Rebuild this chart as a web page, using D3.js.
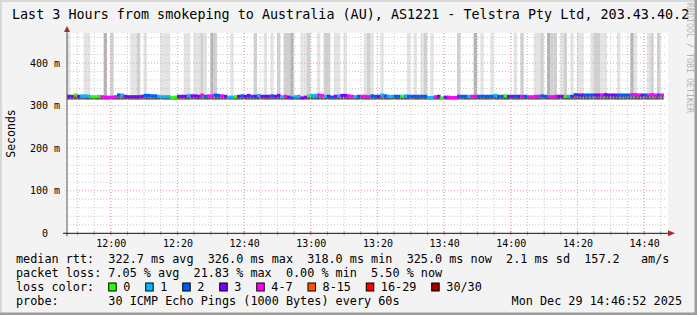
<!DOCTYPE html>
<html>
<head>
<meta charset="utf-8">
<script src="https://cdn.jsdelivr.net/npm/d3@7"></script>
<style>
body { margin: 0; background: #fff; }
text { font-family: "DejaVu Sans Mono", monospace; white-space: pre; }
</style>
</head>
<body>
<div id="chart"></div>
<script>
const W = 697, H = 315;

const title = "Last 3 Hours from smokeping to Australia (AU), AS1221 - Telstra Pty Ltd, 203.43.40.2";
const startTime = new Date(2025, 11, 29, 11, 46, 52);
const endTime = new Date(2025, 11, 29, 14, 46, 52);

// one sample per minute, median rtt in ms
const median = [
  322, 322, 325, 322, 323, 323, 322, 321, 321, 322,
  321, 320, 320, 320, 321, 325, 325, 322, 321, 321,
  321, 321, 322, 324, 324, 323, 323, 322, 321, 321,
  321, 319, 320, 322, 322, 322, 324, 323, 323, 322,
  325, 322, 323, 323, 325, 324, 323, 322, 320, 320,
  321, 322, 323, 322, 324, 322, 322, 324, 322, 322,
  322, 323, 322, 324, 321, 322, 320, 318, 321, 322,
  318, 320, 323, 324, 324, 325, 324, 322, 322, 320,
  322, 323, 324, 324, 323, 322, 321, 322, 322, 322,
  321, 323, 322, 322, 325, 323, 322, 322, 322, 322,
  322, 323, 322, 322, 322, 322, 322, 322, 319, 319,
  321, 322, 318, 320, 320, 319, 319, 322, 322, 322,
  322, 322, 322, 322, 322, 322, 322, 322, 324, 322,
  322, 323, 322, 322, 322, 322, 322, 322, 321, 321,
  322, 322, 323, 322, 321, 321, 322, 322, 322, 322,
  322, 322, 326, 325, 325, 325, 325, 325, 325, 325,
  325, 326, 325, 325, 325, 325, 325, 325, 325, 326,
  326, 325, 325, 325, 325, 326, 325, 325, 325
];

// lost pings (of 30) per minute
const loss = [
  3, 3, 0, 3, 1, 1, 1, 0, 0, 0,
  5, 5, 5, 5, 5, 2, 1, 3, 3, 3,
  3, 3, 3, 2, 2, 2, 2, 1, 1, 1,
  1, 0, 0, 3, 3, 3, 1, 3, 3, 3,
  5, 2, 5, 5, 2, 2, 5, 3, 1, 1,
  0, 3, 2, 3, 3, 2, 3, 1, 3, 3,
  3, 2, 3, 3, 1, 5, 3, 2, 1, 1,
  3, 3, 0, 1, 1, 5, 5, 1, 3, 2,
  3, 1, 3, 3, 5, 5, 1, 2, 5, 5,
  5, 2, 2, 3, 1, 2, 1, 1, 2, 2,
  0, 1, 2, 2, 2, 2, 2, 2, 1, 1,
  5, 3, 0, 3, 5, 5, 5, 2, 2, 2,
  1, 5, 5, 2, 2, 2, 2, 2, 1, 2,
  2, 0, 3, 3, 2, 3, 5, 2, 5, 5,
  5, 5, 2, 2, 5, 5, 5, 3, 3, 0,
  1, 3, 2, 3, 3, 2, 2, 2, 3, 3,
  5, 3, 3, 3, 3, 2, 2, 2, 2, 5,
  5, 5, 3, 2, 5, 5, 5, 2, 5
];

// minutes with pings above the top of the graph, and how dense that smoke is (1 light .. 3 dark)
const smokeMinute = [0, 5, 6, 11, 13, 19, 20, 21, 23, 28, 29, 30, 35, 36, 38, 39, 40, 41, 43, 44,
  49, 56, 59, 61, 63, 65, 66, 67, 70, 71, 72, 75, 77, 78, 80, 81, 83, 89, 90, 91,
  94, 102, 104, 106, 107, 109, 117, 122, 124, 127, 134, 136, 140, 141, 142, 144, 145, 146, 148, 149,
  151, 153, 154, 157, 158, 159, 160, 161, 165, 169, 170, 174, 175, 177];
const smokeShade = [1, 1, 1, 3, 2, 1, 1, 2, 1, 1, 1, 1, 1, 1, 1, 1, 2, 1, 3, 2,
  1, 2, 1, 1, 2, 2, 2, 3, 1, 1, 2, 1, 2, 2, 1, 1, 1, 1, 2, 1,
  1, 1, 1, 1, 2, 1, 2, 3, 1, 1, 1, 2, 1, 1, 2, 3, 2, 2, 1, 2,
  1, 1, 1, 1, 2, 2, 1, 1, 1, 3, 1, 1, 2, 2];
const smokeLow = 314;

const lossLabels = ["0", "1", "2", "3", "4-7", "8-15", "16-29", "30/30"];
const lossLimits = [0, 1, 2, 3, 7, 15, 29, 30];
const lossColors = ["#26ff00", "#00b8ff", "#0059ff", "#7e00ff", "#ff00ff", "#ff5500", "#ff0000", "#a10000"];
const shadeColors = ["", "#e3e3e3", "#d0d0d0", "#b4b4b4"];

const yTicks = [0, 100, 200, 300, 400];
const yTickLabels = ["0  ", "100 m", "200 m", "300 m", "400 m"];

const legendRtt = "median rtt:  322.7 ms avg  326.0 ms max  318.0 ms min  325.0 ms now  2.1 ms sd  157.2   am/s";
const legendLoss = "packet loss: 7.05 % avg  21.83 % max  0.00 % min  5.50 % now";
const legendProbe = "probe:       30 ICMP Echo Pings (1000 Bytes) every 60s";
const stamp = "Mon Dec 29 14:46:52 2025";

const plot = { left: 67, right: 667, top: 33, bottom: 233.3 };

const x = d3.scaleTime().domain([startTime, endTime]).range([plot.left, plot.right]);
const y = d3.scaleLinear().domain([0, 470.6]).range([plot.bottom, plot.top]);
const minute = i => new Date(startTime.getTime() + i * 60000);

const svg = d3.select("#chart").append("svg")
  .attr("width", W).attr("height", H);

// canvas with rrdtool style bevel
svg.append("rect").attr("width", W).attr("height", H).attr("fill", "#f3f3f3");
svg.append("path").attr("d", `M0,${H} V0 H${W}`).attr("fill", "none")
  .attr("stroke", "#d8d8d8").attr("stroke-width", 4);
svg.append("path").attr("d", `M0,${H} H${W} V0`).attr("fill", "none")
  .attr("stroke", "#9c9c9c").attr("stroke-width", 5);

svg.append("text").attr("x", 12).attr("y", 18.5)
  .attr("font-size", 13.4).attr("fill", "#000").text(title);

svg.append("text").attr("transform", "translate(690,3) rotate(90)")
  .attr("font-size", 8.3).attr("fill", "#b4b4b4").attr("dominant-baseline", "central")
  .text("RRDTOOL / TOBI OETIKER");

svg.append("rect")
  .attr("x", plot.left).attr("y", plot.top)
  .attr("width", plot.right - plot.left + 1).attr("height", plot.bottom - plot.top)
  .attr("fill", "#fff");

// tall smoke
svg.append("g").selectAll("rect").data(smokeMinute).join("rect")
  .attr("x", m => x(minute(m)))
  .attr("width", m => x(minute(m + 1)) - x(minute(m)))
  .attr("y", plot.top)
  .attr("height", m => y(median[m]) - plot.top)
  .attr("fill", (m, i) => shadeColors[smokeShade[i]]);

// smoke just below median
svg.append("g").selectAll("rect").data(median).join("rect")
  .attr("x", (d, i) => x(minute(i)))
  .attr("width", (d, i) => x(minute(i + 1)) - x(minute(i)))
  .attr("y", d => y(d))
  .attr("height", d => y(smokeLow) - y(d))
  .attr("fill", "#5a5a5a");

// grid
const grid = svg.append("g");
const minorX = d3.timeMinute.every(5).range(startTime, endTime);
const majorX = d3.timeMinute.every(20).range(startTime, endTime);
grid.selectAll(".vmin").data(minorX).join("line")
  .attr("x1", d => x(d)).attr("x2", d => x(d))
  .attr("y1", plot.top).attr("y2", plot.bottom)
  .attr("stroke", "#c8c8c8").attr("stroke-dasharray", "1,2");
grid.selectAll(".vmaj").data(majorX).join("line")
  .attr("x1", d => x(d)).attr("x2", d => x(d))
  .attr("y1", plot.top).attr("y2", plot.bottom)
  .attr("stroke", "#e2a3a3").attr("stroke-dasharray", "1,2");
const minorY = d3.range(20, 470, 20);
grid.selectAll(".hmin").data(minorY).join("line")
  .attr("x1", plot.left).attr("x2", plot.right)
  .attr("y1", d => y(d)).attr("y2", d => y(d))
  .attr("stroke", d => d % 100 === 0 ? "#e2a3a3" : "#c8c8c8")
  .attr("stroke-dasharray", "1,2");

// median line coloured by loss
const lossColor = n => lossColors[lossLimits.findIndex(l => n <= l)];
svg.append("g").selectAll("rect").data(median).join("rect")
  .attr("x", (d, i) => x(minute(i)))
  .attr("width", (d, i) => x(minute(i + 1)) - x(minute(i)) + 0.3)
  .attr("y", d => y(d) - 1.5)
  .attr("height", 3)
  .attr("fill", (d, i) => lossColor(loss[i]));

// axes
const axisX = svg.append("g").attr("transform", `translate(0,${plot.bottom})`)
  .call(d3.axisBottom(x).tickValues(majorX).tickFormat(d3.timeFormat("%H:%M")).tickSize(0).tickPadding(7));
axisX.select(".domain").remove();
axisX.selectAll("text").attr("font-family", "DejaVu Sans Mono").attr("font-size", 10).attr("fill", "#000");

svg.append("g").selectAll("line").data(minorX).join("line")
  .attr("x1", d => x(d)).attr("x2", d => x(d))
  .attr("y1", plot.bottom - 2).attr("y2", plot.bottom + 2)
  .attr("stroke", d => d.getMinutes() % 20 === 0 ? "#e08080" : "#aaa");

const axisY = svg.append("g").attr("transform", `translate(60,0)`)
  .call(d3.axisLeft(y).tickValues(yTicks).tickFormat((d, i) => yTickLabels[i]).tickSize(0).tickPadding(0));
axisY.select(".domain").remove();
axisY.selectAll("text").attr("font-family", "DejaVu Sans Mono").attr("font-size", 10).attr("fill", "#000")
  .style("white-space", "pre");

svg.append("line").attr("x1", plot.left).attr("x2", plot.left)
  .attr("y1", plot.bottom + 3).attr("y2", 30).attr("stroke", "#555");
svg.append("line").attr("x1", plot.left - 4).attr("x2", plot.right + 2)
  .attr("y1", plot.bottom).attr("y2", plot.bottom).attr("stroke", "#111");
svg.append("path").attr("d", `M${plot.left - 3},32 L${plot.left},26 L${plot.left + 3},32 Z`).attr("fill", "#a52a2a");
svg.append("path").attr("d", `M${plot.right + 1},${plot.bottom - 3} L${plot.right + 8},${plot.bottom} L${plot.right + 1},${plot.bottom + 3} Z`).attr("fill", "#a52a2a");

svg.append("text").attr("transform", "translate(10.5,133.5) rotate(-90)")
  .attr("font-size", 11.5).attr("text-anchor", "middle").attr("dominant-baseline", "central")
  .text("Seconds");

// legend
const lg = svg.append("g").attr("font-size", 11.8).attr("fill", "#000");
lg.append("text").attr("x", 16).attr("y", 263).text(legendRtt);
lg.append("text").attr("x", 16).attr("y", 277).text(legendLoss);
lg.append("text").attr("x", 16).attr("y", 291).text("loss color:");
lg.append("text").attr("x", 16).attr("y", 305).text(legendProbe);
lg.append("text").attr("x", 682).attr("y", 305).attr("text-anchor", "end").text(stamp);

let bx = 108.7;
lossLabels.forEach((lab, i) => {
  lg.append("rect").attr("x", bx).attr("y", 283).attr("width", 7.5).attr("height", 8)
    .attr("fill", lossColors[i]).attr("stroke", "#000").attr("stroke-width", 1);
  const t = lg.append("text").attr("x", bx + 14.6).attr("y", 291).text(lab);
  bx = bx + 14.6 + t.node().getComputedTextLength() + 15.3;
});
</script>
</body>
</html>
